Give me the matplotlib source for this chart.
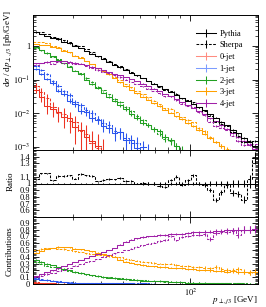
import numpy as np
import matplotlib
matplotlib.use("Agg")
import matplotlib.pyplot as plt
from matplotlib.lines import Line2D
from matplotlib.ticker import FixedLocator, FixedFormatter, MultipleLocator, NullFormatter

plt.rcParams['font.family'] = ['Liberation Serif', 'DejaVu Serif']
plt.rcParams['mathtext.fontset'] = 'stix'

# 40 log bins in p_T(j3), 20 - 200 GeV
edge_lo = 20.0
edge_hi = 200.0
n_bins = 40

# Pythia total cross section [pb/GeV]
pythia_total = [2.52, 2.22, 2.01, 1.77, 1.56, 1.34, 1.18, 0.995, 0.855, 0.705,
                0.592, 0.487, 0.409, 0.337, 0.277, 0.228, 0.192, 0.157, 0.133, 0.109,
                0.0915, 0.0755, 0.0635, 0.0510, 0.0430, 0.0344, 0.0284, 0.0227, 0.0188, 0.0149,
                0.0121, 0.00925, 0.00730, 0.00555, 0.00430, 0.00320, 0.00248, 0.00183, 0.00143, 0.00105]

# Sherpa / Pythia
sherpa_ratio = [1.06, 1.15, 1.15, 1.05, 1.11, 1.11, 1.12, 1.07, 1.14, 1.12,
                1.11, 1.03, 1.05, 1.07, 1.06, 1.08, 1.04, 1.04, 1.00, 1.01,
                1.00, 1.00, 0.97, 0.95, 1.05, 1.10, 0.98, 1.05, 1.12, 1.00,
                0.98, 0.90, 0.76, 0.87, 0.98, 0.86, 0.84, 0.76, 1.06, 1.38]

# contributions of the n-jet samples (fraction of total)
pythia_0jet = [0.020, 0.014, 0.008, 0.0075, 0.0068, 0.0056, 0.0060, 0.0040, 0.0036, 0.0027,
               0.0025, 0.0022, 0, 0, 0, 0, 0, 0, 0, 0,
               0, 0, 0, 0, 0, 0, 0, 0, 0, 0,
               0, 0, 0, 0, 0, 0, 0, 0, 0, 0]
pythia_1jet = [0.080, 0.066, 0.052, 0.043, 0.030, 0.027, 0.020, 0.019, 0.014, 0.015,
               0.012, 0.013, 0.010, 0.011, 0.009, 0.012, 0.008, 0.010, 0.007, 0.009,
               0, 0, 0, 0, 0, 0, 0, 0, 0, 0,
               0, 0, 0, 0, 0, 0, 0, 0, 0, 0]
pythia_2jet = [0.36, 0.33, 0.30, 0.28, 0.25, 0.225, 0.20, 0.18, 0.165, 0.14,
               0.125, 0.115, 0.10, 0.09, 0.085, 0.075, 0.068, 0.058, 0.055, 0.048,
               0.050, 0.044, 0.045, 0.038, 0.036, 0.030, 0.028, 0.022, 0.020, 0.016,
               0.013, 0.011, 0.012, 0.009, 0.010, 0.007, 0.008, 0.006, 0.007, 0.005]
pythia_3jet = [0.46, 0.49, 0.52, 0.53, 0.55, 0.54, 0.54, 0.52, 0.51, 0.50,
               0.48, 0.46, 0.44, 0.42, 0.40, 0.36, 0.33, 0.31, 0.29, 0.28,
               0.27, 0.26, 0.25, 0.25, 0.24, 0.235, 0.23, 0.22, 0.22, 0.21,
               0.20, 0.20, 0.19, 0.19, 0.18, 0.185, 0.17, 0.18, 0.17, 0.18]
pythia_4jet = [0.12, 0.14, 0.17, 0.20, 0.23, 0.26, 0.29, 0.32, 0.35, 0.38,
               0.41, 0.44, 0.47, 0.50, 0.53, 0.58, 0.62, 0.65, 0.67, 0.69,
               0.70, 0.71, 0.72, 0.72, 0.73, 0.74, 0.74, 0.75, 0.76, 0.76,
               0.77, 0.77, 0.78, 0.78, 0.79, 0.79, 0.80, 0.80, 0.80, 0.81]

sherpa_0jet = [0.024, 0.017, 0.012, 0.008, 0.0060, 0.0065, 0.0045, 0.0050, 0.0030, 0.0030,
               0.0020, 0.0018, 0.0016, 0, 0, 0, 0, 0, 0, 0,
               0, 0, 0, 0, 0, 0, 0, 0, 0, 0,
               0, 0, 0, 0, 0, 0, 0, 0, 0, 0]
sherpa_1jet = [0.095, 0.075, 0.062, 0.048, 0.038, 0.030, 0.026, 0.020, 0.018, 0.016,
               0.015, 0.013, 0.012, 0.012, 0.010, 0.011, 0.009, 0.008, 0.010, 0.007,
               0.008, 0.006, 0, 0, 0, 0, 0, 0, 0, 0,
               0, 0, 0, 0, 0, 0, 0, 0, 0, 0]
sherpa_2jet = [0.32, 0.30, 0.27, 0.25, 0.23, 0.21, 0.19, 0.17, 0.155, 0.14,
               0.13, 0.12, 0.11, 0.10, 0.09, 0.085, 0.075, 0.07, 0.062, 0.055,
               0.05, 0.045, 0.04, 0.036, 0.032, 0.028, 0.025, 0.022, 0.019, 0.017,
               0.015, 0.013, 0.012, 0.011, 0.010, 0.009, 0.008, 0.008, 0.007, 0.006]
sherpa_3jet = [0.50, 0.52, 0.53, 0.53, 0.52, 0.51, 0.50, 0.48, 0.47, 0.45,
               0.44, 0.43, 0.42, 0.41, 0.40, 0.39, 0.37, 0.36, 0.34, 0.33,
               0.32, 0.31, 0.30, 0.29, 0.30, 0.28, 0.27, 0.26, 0.25, 0.25,
               0.24, 0.23, 0.25, 0.22, 0.21, 0.20, 0.22, 0.18, 0.16, 0.17]
sherpa_4jet = [0.10, 0.12, 0.14, 0.16, 0.19, 0.21, 0.24, 0.27, 0.29, 0.32,
               0.34, 0.37, 0.40, 0.42, 0.45, 0.47, 0.50, 0.52, 0.55, 0.57,
               0.59, 0.61, 0.63, 0.65, 0.70, 0.64, 0.69, 0.70, 0.72, 0.72,
               0.73, 0.66, 0.75, 0.76, 0.77, 0.78, 0.72, 0.80, 0.80, 0.81]

jet_labels = ['0-jet', '1-jet', '2-jet', '3-jet', '4-jet']
jet_colors = ['#ee3322', '#2a55ee', '#22a022', '#ffa000', '#a020a8']
legend_colors = ['#ff8c80', '#7c9cff', '#22a022', '#ffa000', '#a020a8']
# effective statistics of each sample (events per pb), for the error bars
jet_lumi = [300.0, 1000.0, 3000.0, 10000.0, 20000.0]

edges = np.logspace(np.log10(edge_lo), np.log10(edge_hi), n_bins + 1)
centers = np.sqrt(edges[:-1] * edges[1:])
widths = np.diff(edges)

py_tot = np.array(pythia_total)
sh_tot = py_tot * np.array(sherpa_ratio)
py_fracs = [np.array(f) for f in [pythia_0jet, pythia_1jet, pythia_2jet, pythia_3jet, pythia_4jet]]
sh_fracs = [np.array(f) for f in [sherpa_0jet, sherpa_1jet, sherpa_2jet, sherpa_3jet, sherpa_4jet]]


def stat_err(vals, lumi):
    return np.sqrt(vals / (widths * lumi))


py_jets = [py_tot * f for f in py_fracs]
sh_jets = [sh_tot * f for f in sh_fracs]
py_jet_err = [stat_err(v, l) for v, l in zip(py_jets, jet_lumi)]
sh_jet_err = [stat_err(v, l) for v, l in zip(sh_jets, jet_lumi)]
py_tot_err = np.sqrt(sum(e ** 2 for e in py_jet_err))
sh_tot_err = np.sqrt(sum(e ** 2 for e in sh_jet_err))

SOLID = '-'
DASHED = (0, (2.6, 1.4))
LW = 0.75


def draw(ax, vals, errs, color, ls, logy=False):
    v = np.array(vals, dtype=float)
    e = np.array(errs, dtype=float)
    v = np.where(v > 0, v, np.nan)
    lo = np.minimum(e, v * 0.9) if logy else e
    ax.step(edges, np.append(v, v[-1]), where='post', color=color, lw=LW, ls=ls)
    ax.errorbar(centers, v, yerr=[lo, e], fmt='none', ecolor=color, elinewidth=LW, capsize=0)


W, H = 266, 307
fig = plt.figure(figsize=(W / 100, H / 100), dpi=100)
ax_main = fig.add_axes([33 / W, 1 - 150 / H, 225 / W, 135 / H])
ax_rat = fig.add_axes([33 / W, 1 - 217 / H, 225 / W, 67 / H])
ax_con = fig.add_axes([33 / W, 1 - 284 / H, 225 / W, 67 / H])

# main panel
for i in range(5):
    draw(ax_main, sh_jets[i], sh_jet_err[i], jet_colors[i], DASHED, logy=True)
    draw(ax_main, py_jets[i], py_jet_err[i], jet_colors[i], SOLID, logy=True)
draw(ax_main, sh_tot, sh_tot_err, 'black', DASHED, logy=True)
draw(ax_main, py_tot, py_tot_err, 'black', SOLID, logy=True)
ax_main.set_yscale('log')
ax_main.set_ylim(8.0e-4, 8.3)
ax_main.yaxis.set_major_locator(FixedLocator([1e-3, 1e-2, 1e-1, 1]))
ax_main.yaxis.set_major_formatter(FixedFormatter(['$10^{-3}$', '$10^{-2}$', '$10^{-1}$', '1']))

handles = [Line2D([], [], color='black', lw=LW, ls=SOLID, marker='|', ms=6, mew=LW),
           Line2D([], [], color='black', lw=LW, ls=DASHED, marker='|', ms=6, mew=LW)]
for c in legend_colors:
    handles.append(Line2D([], [], color=c, lw=LW, marker='|', ms=6, mew=LW))
ax_main.legend(handles, ['Pythia', 'Sherpa'] + jet_labels, loc='upper left',
               bbox_to_anchor=(0.70, 0.935), frameon=False, fontsize=6,
               handlelength=2.4, handletextpad=0.4, labelspacing=0.45, borderpad=0.2)

# ratio panel
draw(ax_rat, np.ones(n_bins), py_tot_err / py_tot, 'black', SOLID)
draw(ax_rat, sh_tot / py_tot, sh_tot_err / py_tot, 'black', DASHED)
ax_rat.set_ylim(0.5, 1.5)
ax_rat.yaxis.set_major_locator(FixedLocator([0.6, 0.7, 0.8, 0.9, 1.0, 1.1, 1.3, 1.4]))
ax_rat.yaxis.set_major_formatter(FixedFormatter(['0.6', '0.7', '0.8', '0.9', '1', '1.1', '1.3', '1.4']))
ax_rat.yaxis.set_minor_locator(MultipleLocator(0.02))

# contributions panel
for i in range(5):
    draw(ax_con, sh_fracs[i], sh_jet_err[i] / sh_tot, jet_colors[i], DASHED)
    draw(ax_con, py_fracs[i], py_jet_err[i] / py_tot, jet_colors[i], SOLID)
ax_con.set_ylim(0, 0.985)
ax_con.yaxis.set_major_locator(FixedLocator([0, 0.1, 0.2, 0.3, 0.4, 0.5, 0.6, 0.7, 0.8, 0.9]))
ax_con.yaxis.set_major_formatter(FixedFormatter(['0', '0.1', '0.2', '0.3', '0.4', '0.5', '0.6', '0.7', '0.8', '0.9']))
ax_con.yaxis.set_minor_locator(MultipleLocator(0.02))

minor_x = [20, 30, 40, 50, 60, 70, 80, 90, 200]
for ax in [ax_main, ax_rat, ax_con]:
    ax.set_xscale('log')
    ax.set_xlim(edge_lo, edge_hi)
    ax.xaxis.set_major_locator(FixedLocator([100]))
    ax.xaxis.set_minor_locator(FixedLocator(minor_x))
    ax.xaxis.set_minor_formatter(NullFormatter())
    ax.tick_params(which='both', direction='in', top=True, right=True, labelsize=6, pad=2)
    ax.tick_params(which='major', length=4, width=0.6)
    ax.tick_params(which='minor', length=2, width=0.5)
    for s in ax.spines.values():
        s.set_linewidth(0.7)
ax_main.xaxis.set_major_formatter(NullFormatter())
ax_rat.xaxis.set_major_formatter(NullFormatter())
ax_con.xaxis.set_major_formatter(FixedFormatter(['$10^{2}$']))

fig.text(8 / W, 1 - 10 / H, r'd$\sigma$ / d$p_{\perp,j3}$ [pb/GeV]', rotation=90,
         ha='center', va='top', fontsize=6.5)
fig.text(11 / W, 1 - 181 / H, 'Ratio', rotation=90, ha='center', va='center', fontsize=6.5)
fig.text(10 / W, 1 - 251 / H, 'Contributions', rotation=90, ha='center', va='center', fontsize=6.5)
fig.text(258 / W, 1 - 300 / H, r'$p_{\perp,j3}$ [GeV]', ha='right', va='center', fontsize=6.5)

fig.savefig('out.png', dpi=100)
